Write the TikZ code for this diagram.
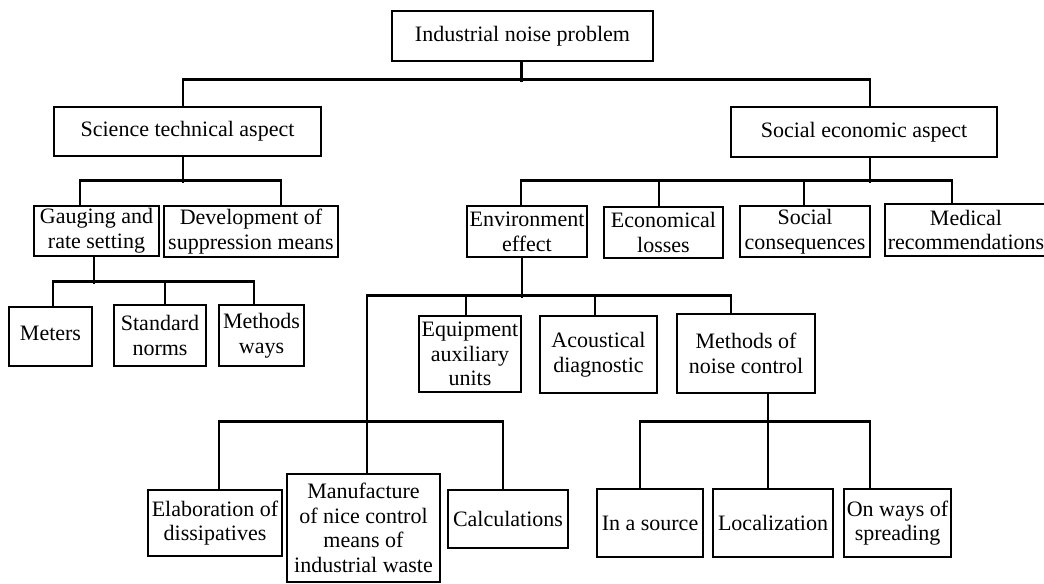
\documentclass[tikz,border=0pt]{standalone}
\usepackage{fontspec}
\setmainfont{Liberation Serif}
\usetikzlibrary{calc}
\begin{document}
\begin{tikzpicture}[x=0.75pt,y=-0.75pt,
  box/.style n args={2}{draw, line width=2pt, inner sep=0pt, align=center,
    minimum width=#1*0.75pt, minimum height=#2*0.75pt,
    font=\fontsize{16.5}{18.5}\selectfont},
  wire/.style={line width=2pt}]
\useasboundingbox (0,0) rectangle (1044,583);
% level 0
\node[box={261}{50}] (top) at (522.5,36) {Industrial noise problem};
% level 1
\node[box={267}{49}] (sci) at (187.5,131.5) {Science technical aspect};
\node[box={266}{50}] (soc) at (864,132) {Social economic aspect};
% level 2
\node[box={125}{50}] (gau) at (96.5,231) {Gauging and\\rate setting};
\node[box={174}{51}] (dev) at (251,231.5) {Development of\\suppression means};
\node[box={120}{51}] (env) at (527,231.5) {Environment\\effect};
\node[box={119}{51}] (eco) at (663.5,232.5) {Economical\\losses};
\node[box={130}{51}] (scons) at (805,231.5) {Social\\consequences};
\node[box={162}{52}] (med) at (966,230) {Medical\\recommendations};
% level 3
\node[box={83}{59}] (met) at (50.5,336.5) {\raisebox{4.5pt}{Meters}};
\node[box={92}{61}] (std) at (160,335.5) {Standard\\norms};
\node[box={85}{61}] (mw) at (261.5,335.5) {Methods\\ways};
\node[box={102}{76}] (equ) at (470,354) {Equipment\\auxiliary\\units};
\node[box={117}{77}] (aco) at (598.5,354.5) {Acoustical\\diagnostic};
\node[box={138}{79}] (mnc) at (746,353.5) {Methods of\\noise control};
% level 4
\node[box={134}{66}] (ela) at (215,523) {Elaboration of\\dissipatives};
\node[box={153}{108}] (man) at (363.5,528) {Manufacture\\of nice control\\means of\\industrial waste};
\node[box={120}{58}] (cal) at (508,519) {Calculations};
\node[box={106}{68}] (src) at (650,523) {In a source};
\node[box={120}{68}] (loc) at (773,523) {Localization};
\node[box={107}{68}] (spr) at (897.5,523) {On ways of\\spreading};
% connectors: top
\draw[wire] ($(top.south)+(-1,0)$) -- ++(0,20);
\draw[wire] ($(sci.north)+(-4.5,0)$) |- ($(soc.north)+(6,-26)$) -- ($(soc.north)+(6,0)$);
% science group
\draw[wire] ($(sci.south)+(-4.5,0)$) -- ++(0,26);
\draw[wire] ($(gau.north)+(-16.5,0)$) |- ($(dev.north)+(30,-24)$) -- ($(dev.north)+(30,0)$);
% gauging group
\draw[wire] ($(gau.south)+(-2.5,0)$) -- ++(0,27);
\draw[wire] ($(met.north)+(2.5,0)$) |- ($(mw.north)+(-7.5,-22)$) -- ($(mw.north)+(-7.5,0)$);
\draw[wire] ($(std.north)+(5,0)$) -- ++(0,-22);
% social group
\draw[wire] ($(soc.south)+(6,0)$) -- ++(0,25);
\draw[wire] ($(env.north)+(-6,0)$) |- ($(med.north)+(-14,-22)$) -- ($(med.north)+(-14,0)$);
\draw[wire] ($(eco.north)+(-4.5,0)$) -- ++(0,-25);
\draw[wire] ($(scons.north)+(-1,0)$) -- ++(0,-24);
% environment group
\draw[wire] ($(env.south)+(-5,0)$) -- ++(0,40);
\draw[wire] ($(man.north)+(3.5,0)$) |- ($(mnc.north)+(-15,-17)$) -- ($(mnc.north)+(-15,0)$);
\draw[wire] ($(equ.north)+(-4,0)$) -- ++(0,-19);
\draw[wire] ($(aco.north)+(-3.5,0)$) -- ++(0,-19);
\draw[wire] ($(ela.north)+(4,0)$) |- ($(cal.north)+(-5,-67)$) -- ($(cal.north)+(-5,0)$);
% methods of noise control group
\draw[wire] ($(mnc.south)+(22,0)$) -- ++(0,30);
\draw[wire] ($(src.north)+(-10,0)$) |- ($(spr.north)+(-27.5,-66)$) -- ($(spr.north)+(-27.5,0)$);
\draw[wire] ($(loc.north)+(-5,0)$) -- ++(0,-66);
\end{tikzpicture}
\end{document}
